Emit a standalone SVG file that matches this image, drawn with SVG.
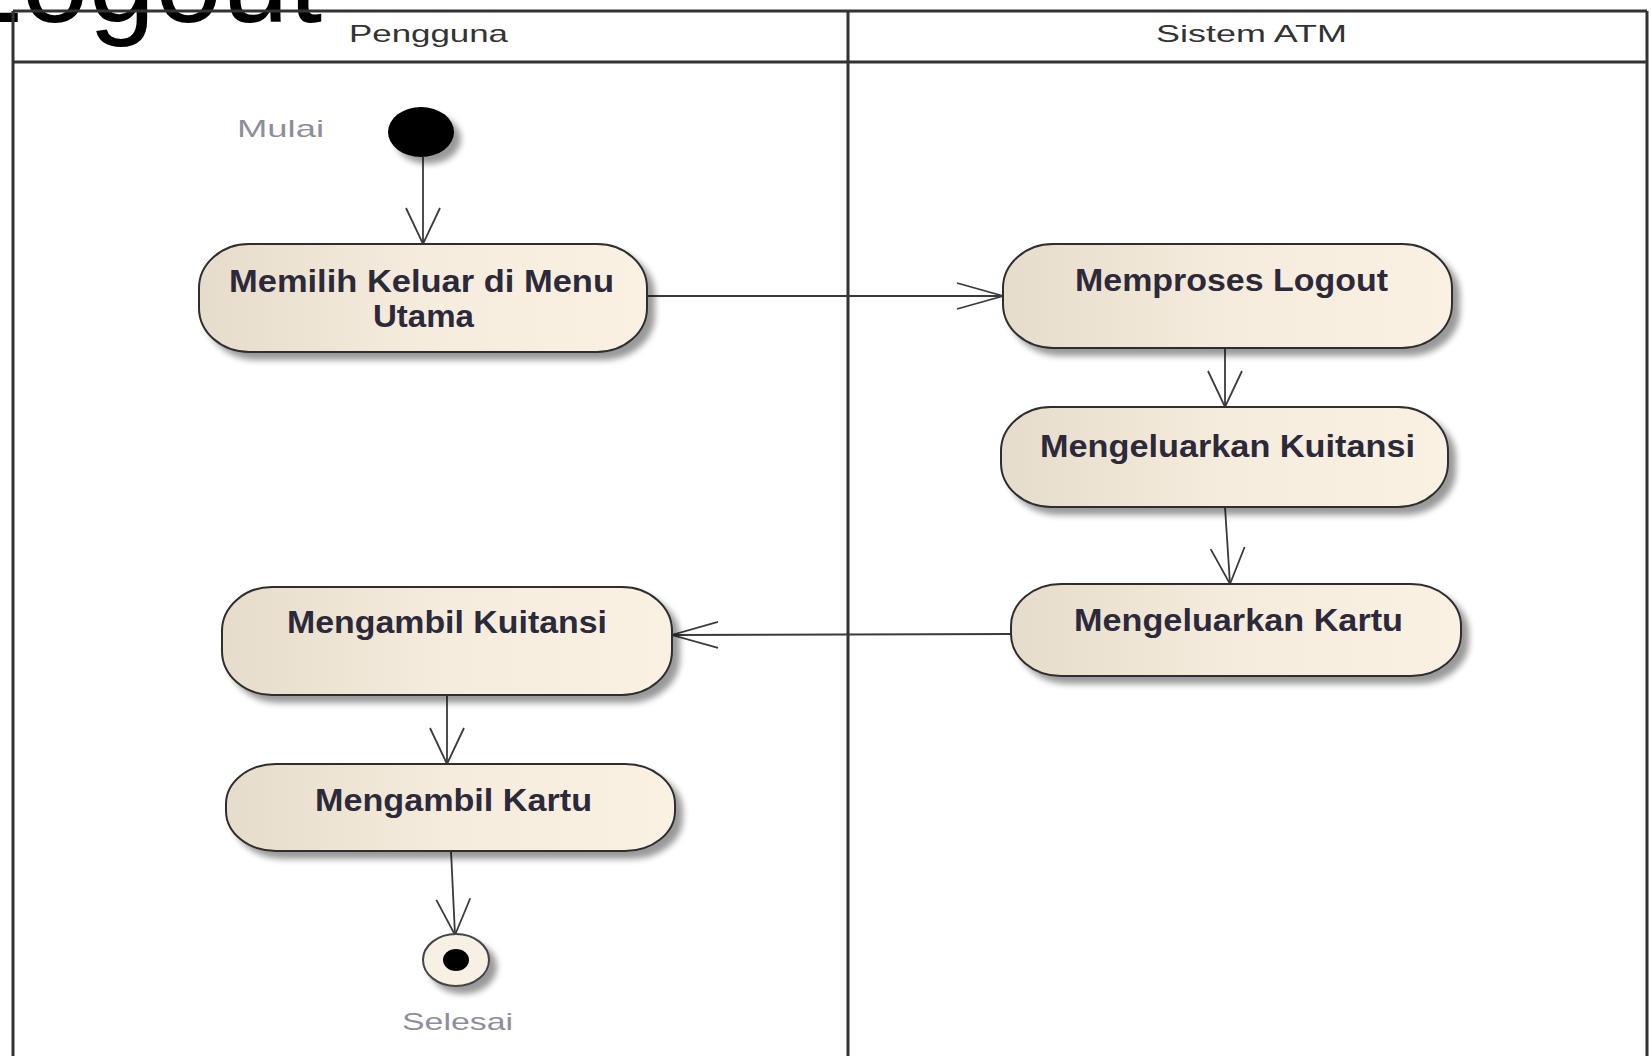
<svg xmlns="http://www.w3.org/2000/svg" width="1652" height="1056" viewBox="0 0 1652 1056">
<style>
.lane{stroke:#333;stroke-width:3;fill:none}
.node{fill:url(#nodeFill);stroke:#2e2e2e;stroke-width:2;filter:url(#shadow)}
.label{font-family:"Liberation Sans",Arial,sans-serif;font-weight:bold;font-size:31px;fill:#2c2a3a}
.hdr{font-family:"Liberation Sans",Arial,sans-serif;font-size:24px;fill:#333}
.cap{font-family:"Liberation Sans",Arial,sans-serif;font-size:24px;fill:#8e8e9a}
.conn{stroke:#3a3a3a;stroke-width:1.8;fill:none}
.head{stroke:#3a3a3a;stroke-width:1.8;fill:none}
</style>
<defs>
<linearGradient id="nodeFill" x1="0" y1="0" x2="1" y2="0">
<stop offset="0" stop-color="#e6dccb"/>
<stop offset="0.5" stop-color="#f6ecdd"/>
<stop offset="1" stop-color="#fbf1e2"/>
</linearGradient>
<filter id="shadow" x="-10%" y="-20%" width="130%" height="150%">
<feGaussianBlur in="SourceAlpha" stdDeviation="3"/>
<feOffset dx="7" dy="7" result="b"/>
<feComponentTransfer><feFuncA type="linear" slope="0.4"/></feComponentTransfer>
<feMerge><feMergeNode/><feMergeNode in="SourceGraphic"/></feMerge>
</filter>
<marker id="arrV" markerUnits="userSpaceOnUse" orient="auto" refX="0" refY="0" markerWidth="60" markerHeight="60" overflow="visible">
<path class="head" d="M -36,-17 L 0,0 L -36,17"/>
</marker>
<marker id="arrH" markerUnits="userSpaceOnUse" orient="auto" refX="0" refY="0" markerWidth="60" markerHeight="60" overflow="visible">
<path class="head" d="M -46,-13 L 0,0 L -46,13"/>
</marker>
</defs>
<rect width="1652" height="1056" fill="#fff"/>
<text x="-45" y="22" font-family="'Liberation Sans',Arial,sans-serif" font-size="120" fill="#000">Logout</text>
<g id="swimlanes">
<line class="lane" x1="13" y1="11" x2="1647" y2="11"/>
<line class="lane" x1="13" y1="62" x2="1647" y2="62"/>
<line class="lane" x1="13" y1="11" x2="13" y2="1056"/>
<line class="lane" x1="848" y1="11" x2="848" y2="1056"/>
<line class="lane" x1="1647" y1="11" x2="1647" y2="1056"/>
<text class="hdr" x="349" y="42" textLength="159" lengthAdjust="spacingAndGlyphs">Pengguna</text>
<text class="hdr" x="1156" y="42" textLength="191" lengthAdjust="spacingAndGlyphs">Sistem ATM</text>
</g>
<g id="connectors">
<line class="conn" x1="423" y1="157" x2="423" y2="244" marker-end="url(#arrV)"/>
<line class="conn" x1="647" y1="296" x2="1003" y2="296" marker-end="url(#arrH)"/>
<line class="conn" x1="1225" y1="348" x2="1225" y2="407" marker-end="url(#arrV)"/>
<line class="conn" x1="1225" y1="507" x2="1230" y2="584" marker-end="url(#arrV)"/>
<line class="conn" x1="1011" y1="634" x2="672" y2="635" marker-end="url(#arrH)"/>
<line class="conn" x1="447" y1="695" x2="447" y2="764" marker-end="url(#arrV)"/>
<line class="conn" x1="451" y1="851" x2="455" y2="935" marker-end="url(#arrV)"/>
</g>
<g id="start">
<ellipse cx="421" cy="132" rx="33" ry="25" fill="#000" filter="url(#shadow)"/>
<text class="cap" x="237" y="137" textLength="87" lengthAdjust="spacingAndGlyphs">Mulai</text>
</g>
<g id="n1">
<rect class="node" x="199" y="244" width="448" height="108" rx="50" ry="44"/>
<text class="label" x="229" y="292" textLength="385" lengthAdjust="spacingAndGlyphs">Memilih Keluar di Menu</text>
<text class="label" x="373" y="327" textLength="101" lengthAdjust="spacingAndGlyphs">Utama</text>
</g>
<g id="n2">
<rect class="node" x="1003" y="244" width="449" height="104" rx="50" ry="44"/>
<text class="label" x="1075" y="291" textLength="313" lengthAdjust="spacingAndGlyphs">Memproses Logout</text>
</g>
<g id="n3">
<rect class="node" x="1001" y="407" width="447" height="100" rx="50" ry="44"/>
<text class="label" x="1040" y="457" textLength="375" lengthAdjust="spacingAndGlyphs">Mengeluarkan Kuitansi</text>
</g>
<g id="n4">
<rect class="node" x="1011" y="584" width="450" height="92" rx="50" ry="42"/>
<text class="label" x="1074" y="631" textLength="329" lengthAdjust="spacingAndGlyphs">Mengeluarkan Kartu</text>
</g>
<g id="n5">
<rect class="node" x="222" y="587" width="450" height="108" rx="50" ry="44"/>
<text class="label" x="287" y="633" textLength="320" lengthAdjust="spacingAndGlyphs">Mengambil Kuitansi</text>
</g>
<g id="n6">
<rect class="node" x="226" y="764" width="449" height="87" rx="50" ry="40"/>
<text class="label" x="315" y="811" textLength="277" lengthAdjust="spacingAndGlyphs">Mengambil Kartu</text>
</g>
<g id="end">
<ellipse cx="456" cy="960" rx="33" ry="26" fill="#f7f0e4" stroke="#444" stroke-width="2" filter="url(#shadow)"/>
<ellipse cx="456" cy="960" rx="13" ry="11" fill="#000"/>
<text class="cap" x="402" y="1030" textLength="111" lengthAdjust="spacingAndGlyphs">Selesai</text>
</g>
</svg>
